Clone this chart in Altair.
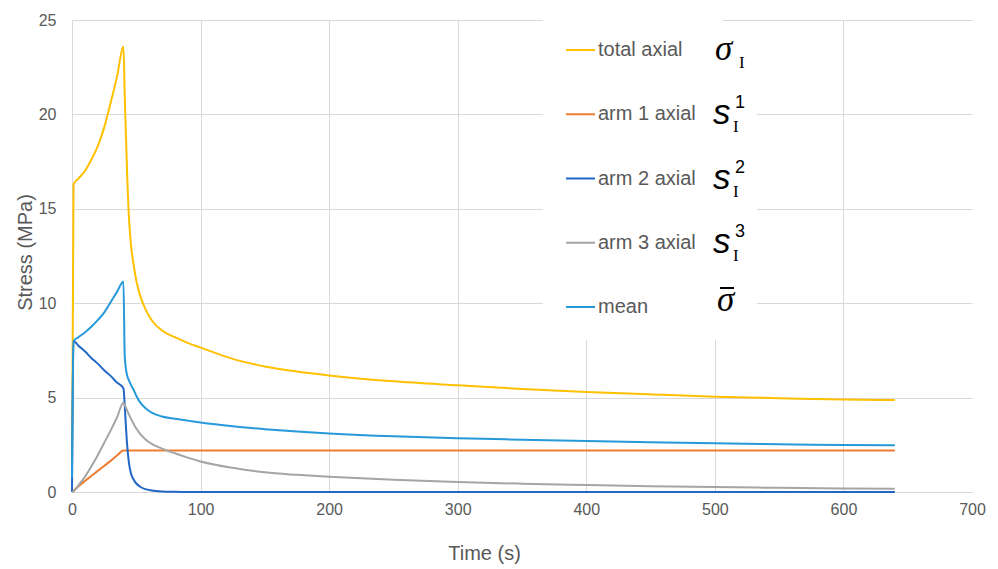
import altair as alt
import pandas as pd

# Sampling times (s)
times = [0, 1.2, 5, 10, 15, 20, 25, 30, 35, 40, 41, 42, 43, 44, 45, 46, 48, 50, 53,
         57, 62, 70, 80, 90, 100, 125, 150, 175, 200, 250, 300, 350, 400, 450, 500,
         550, 600, 640]

# Stress series (MPa)
total_axial = [1.5, 16.3, 16.6, 17.0, 17.6, 18.3, 19.3, 20.6, 22.0, 23.6, 21.0, 18.8,
               16.6, 14.9, 13.8, 13.0, 12.0, 11.2, 10.4, 9.7, 9.1, 8.55, 8.2, 7.9, 7.65,
               7.05, 6.65, 6.38, 6.17, 5.86, 5.65, 5.46, 5.3, 5.17, 5.05, 4.97, 4.9, 4.87]
arm1_axial = [0, 0.07, 0.3, 0.58, 0.85, 1.12, 1.38, 1.65, 1.93, 2.2, 2.2, 2.2, 2.2,
              2.2, 2.2, 2.2, 2.2, 2.2, 2.2, 2.2, 2.2, 2.2, 2.2, 2.2, 2.2, 2.2, 2.2,
              2.2, 2.2, 2.2, 2.2, 2.2, 2.2, 2.2, 2.2, 2.2, 2.2, 2.2]
arm2_axial = [0, 8.0, 7.75, 7.45, 7.1, 6.8, 6.45, 6.15, 5.8, 5.5, 4.6, 3.4, 2.4, 1.7,
              1.25, 0.95, 0.65, 0.45, 0.28, 0.15, 0.08, 0.03, 0.01, 0, 0, 0, 0, 0, 0,
              0, 0, 0, 0, 0, 0, 0, 0, 0]
arm3_axial = [0, 0.04, 0.35, 0.8, 1.35, 1.95, 2.6, 3.25, 3.95, 4.73, 4.6, 4.45, 4.3,
              4.15, 4.0, 3.86, 3.6, 3.36, 3.08, 2.8, 2.55, 2.3, 2.05, 1.82, 1.62, 1.28,
              1.04, 0.91, 0.81, 0.65, 0.53, 0.44, 0.37, 0.31, 0.26, 0.22, 0.19, 0.17]
mean_stress = [0.75, 8.0, 8.2, 8.45, 8.75, 9.1, 9.5, 10.05, 10.6, 11.15, 7.2, 6.5, 6.15,
               5.95, 5.8, 5.65, 5.4, 5.1, 4.75, 4.45, 4.2, 4.0, 3.88, 3.78, 3.68, 3.48,
               3.33, 3.2, 3.1, 2.95, 2.85, 2.77, 2.7, 2.64, 2.58, 2.53, 2.49, 2.47]

names = ["total axial", "arm 1 axial", "arm 2 axial", "arm 3 axial", "mean"]
colors = ["#FFC000", "#ED7D31", "#2367C6", "#A5A5A5", "#2799DA"]
values = [total_axial, arm1_axial, arm2_axial, arm3_axial, mean_stress]

x_ticks = [0, 100, 200, 300, 400, 500, 600, 700]
y_ticks = [0, 5, 10, 15, 20, 25]

rows = []
for name, vals in zip(names, values):
    for t, v in zip(times, vals):
        rows.append({"series": name, "time": t, "stress": v})
df = pd.DataFrame(rows)

GRID = "#D9D9D9"
TEXT = "#595959"
FONT = "Liberation Sans"

x_enc = alt.X(
    "time:Q",
    scale=alt.Scale(domain=[0, 700], nice=False, zero=True),
    axis=alt.Axis(
        values=x_ticks, title="Time (s)", ticks=False, grid=True, gridColor=GRID,
        gridOpacity=alt.condition("datum.value >= 700", alt.value(0), alt.value(1)),
        domainColor=GRID, labelColor=TEXT, labelFont=FONT, labelFontSize=16,
        labelPadding=9, labelFlush=False, titleColor=TEXT, titleFont=FONT,
        titleFontSize=20, titleFontWeight="normal", titleX=412, titleY=61,
        titleAlign="center", titleBaseline="middle",
    ),
)
y_enc = alt.Y(
    "stress:Q",
    scale=alt.Scale(domain=[0, 25], nice=False),
    axis=alt.Axis(
        values=y_ticks, title="Stress (MPa)", ticks=False, grid=True, gridColor=GRID,
        domainColor=GRID, labelColor=TEXT, labelFont=FONT, labelFontSize=16,
        labelPadding=16, labelFlush=False, titleColor=TEXT, titleFont=FONT,
        titleFontSize=20, titleFontWeight="normal", titleX=-47, titleY=232,
        titleAngle=-90, titleAlign="center", titleBaseline="middle",
    ),
)

base = alt.Chart(df)
line_layers = [
    base.transform_filter(alt.datum.series == name)
    .mark_line(strokeWidth=2, color=color, interpolate="monotone")
    .encode(x=x_enc, y=y_enc)
    for name, color in zip(names, colors)
]
lines = alt.layer(*line_layers)

# Legend panel: white backing, line samples, labels and symbols
one = pd.DataFrame({"k": [0]})
backing = alt.layer(
    alt.Chart(one).mark_rect(color="white").encode(
        x=alt.value(471), x2=alt.value(651), y=alt.value(-2), y2=alt.value(320)),
    alt.Chart(one).mark_rect(color="white").encode(
        x=alt.value(640), x2=alt.value(685), y=alt.value(3), y2=alt.value(320)),
)

legend_df = pd.DataFrame({"series": names, "color": colors})
y_leg = alt.Y("series:N", scale=alt.Scale(type="point", domain=names, range=[30, 287],
                                          padding=0), axis=None)

samples = alt.Chart(legend_df).mark_rule(strokeWidth=2).encode(
    x=alt.value(494), x2=alt.value(523), y=y_leg,
    color=alt.Color("series:N", scale=alt.Scale(domain=names, range=colors), legend=None),
)
labels = alt.Chart(legend_df).mark_text(
    align="left", baseline="middle", font=FONT, fontSize=20, color=TEXT
).encode(x=alt.value(526), y=y_leg, text="series:N")

sym_series = ["total axial", "total axial", "arm 1 axial", "arm 1 axial", "arm 1 axial",
              "arm 2 axial", "arm 2 axial", "arm 2 axial", "arm 3 axial", "arm 3 axial",
              "arm 3 axial", "mean"]
sym_glyph = ["σ", "I", "s", "1", "I", "s", "2", "I", "s", "3", "I", "σ"]
sym_kind = ["sig", "sub0", "s", "sup", "sub", "s", "sup", "sub", "s", "sup", "sub", "sigbar"]
sym_df = pd.DataFrame({"series": sym_series, "glyph": sym_glyph, "kind": sym_kind})


def glyph_layer(kind, x, dy, font, size, style="normal"):
    return (
        alt.Chart(sym_df)
        .transform_filter(alt.datum.kind == kind)
        .mark_text(align="left", baseline="alphabetic", font=font, fontSize=size,
                   fontStyle=style, dy=dy, color="black")
        .encode(x=alt.value(x), y=y_leg, text="glyph:N")
    )


symbols = [
    glyph_layer("sig", 643, 10, "Liberation Serif", 35, "italic"),
    glyph_layer("sub0", 667, 18, "Liberation Serif", 17),
    glyph_layer("s", 641, 10, FONT, 35, "italic"),
    glyph_layer("sup", 663, -6, FONT, 18),
    glyph_layer("sub", 661, 18, "Liberation Serif", 17),
    glyph_layer("sigbar", 645, 4, "Liberation Serif", 35, "italic"),
]
overbar = alt.Chart(one).mark_rule(strokeWidth=2, color="black").encode(
    x=alt.value(648), x2=alt.value(662), y=alt.value(268))

legend = alt.layer(backing, samples, labels, *symbols, overbar)

chart = (
    alt.layer(lines, legend)
    .resolve_scale(y="independent")
    .properties(
        width=900, height=472,
        autosize=alt.AutoSizeParams(type="none"),
        padding={"left": 72, "top": 20, "right": 26, "bottom": 77},
        background="white",
    )
    .configure_view(stroke=None)
)

chart.save("out.html", embed_options={"renderer": "svg", "actions": False})
